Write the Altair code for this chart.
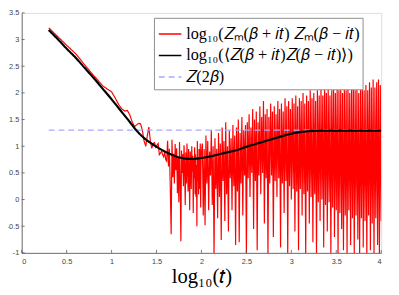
import altair as alt
import pandas as pd
import numpy as np

# ---- labels ----
L1 = "log₁₀(𝑍ₘ(𝛽 + 𝑖𝑡) 𝑍ₘ(𝛽 − 𝑖𝑡)"
L2 = "log₁₀(⟨𝑍(𝛽 + 𝑖𝑡)𝑍(𝛽 − 𝑖𝑡)⟩)"
L3 = "𝑍(2𝛽)"
x_title = "log₁₀(𝑡)"

x_ticks = [0, 0.5, 1, 1.5, 2, 2.5, 3, 3.5, 4]
y_ticks = [-1, -0.5, 0, 0.5, 1, 1.5, 2, 2.5, 3, 3.5]

# ---- red series: t = 2..100 ----
red_t = list(range(2, 101))
red_small_y = [
    3.22, 2.93, 2.73, 2.53, 2.37, 2.24, 2.13, 2.07, 2.02,
    1.90, 1.78, 1.70, 1.66, 1.67, 1.58, 1.45, 1.37, 1.40, 1.43,
    1.42, 1.30, 1.10, 1.00, 1.20, 1.36, 1.10, 0.96, 1.05, 1.07,
    0.98, 1.02, 1.05, 0.84, 0.87, 0.91, 0.84, 0.80, 0.90, 0.75,
    0.72, 1.10, 0.62, 0.95, 0.22, -0.65, 1.12, 0.42, 0.86, 0.30,
    1.04, 0.55, 0.96, 0.12, 0.80, -0.05, 1.08, 0.35, -0.78, 0.92,
    0.50, 0.85, 0.25, 1.02, 0.58, -0.10, 0.88, 0.30, 1.05, 0.62,
    0.15, 0.95, 0.45, -0.20, 0.90, 0.70, 0.20, 1.00, 0.52, 0.82,
    -0.25, 0.75, 0.40, 0.98, 0.10, 0.85, 0.05, 0.65, -0.50, 1.10,
    0.35, 0.80, 0.10, 0.95, 0.55, 0.20, 1.05, -0.15, 0.72, 0.90,
]
# ---- red series: dense part, log10(t) from 2.01 to 4.00 in steps of 0.01 ----
red_dense_y = [
    1.05, -0.30, 0.95, -0.48, 1.20, 0.30, 1.10, -0.20, 0.90, 0.45,
    1.30, -0.10, 1.00, -1.05, 1.15, 0.20, 0.95, -0.35, 1.25, 0.05,
    1.05, -0.76, 1.35, 0.35, 1.10, -0.40, 1.45, 0.10, 1.00, -0.60,
    1.30, 0.40, 1.15, -0.20, 1.40, 0.25, 1.20, -0.85, 1.35, 0.15,
    1.50, -0.80, 1.25, 0.30, 1.55, -0.30, 1.30, 0.45, 1.40, -1.05,
    1.45, 0.40, 1.60, 0.05, 1.35, 0.50, 1.70, -0.55, 1.50, 0.35,
    1.65, -0.95, 1.45, 0.45, 1.75, 0.10, 1.55, 0.50, 1.85, -0.45,
    1.60, 0.40, 1.70, -1.05, 1.55, 0.30, 1.80, 0.45, 1.65, -0.70,
    1.75, 0.35, 1.60, 0.05, 1.85, 0.40, 1.70, -0.90, 1.80, 0.30,
    1.65, -0.25, 1.90, 0.35, 1.75, -1.05, 1.85, 0.25, 1.70, 0.00,
    1.90, 0.20, 1.80, -0.60, 1.95, 0.15, 1.75, -0.95, 1.90, 0.20,
    1.85, -0.30, 2.00, 0.10, 1.80, -1.05, 1.95, 0.15, 1.85, -0.45,
    2.05, 0.05, 1.90, -0.80, 2.00, 0.10, 1.85, -1.05, 2.05, -0.05,
    1.95, -0.40, 2.10, 0.00, 1.95, -0.90, 2.25, -0.10, 2.00, -0.60,
    2.10, -0.05, 1.95, -1.05, 2.05, -0.15, 2.15, -0.70, 2.00, -0.20,
    2.10, -1.05, 2.05, -0.25, 2.15, -0.55, 2.00, -0.95, 2.10, -0.30,
    2.05, -1.05, 2.15, -0.20, 2.00, -0.85, 2.10, -0.35, 2.20, -1.05,
    2.05, -0.30, 2.15, -0.75, 2.00, -1.05, 2.10, -0.35, 2.20, -0.90,
    2.05, -0.40, 2.15, -1.05, 2.05, -0.30, 2.20, -0.95, 2.10, -0.45,
    2.25, -1.05, 2.10, -0.35, 2.20, -0.85, 2.25, -1.05, 2.15, -0.40,
]
red_dense_x = [round(2.0 + 0.01 * (i + 1), 2) for i in range(len(red_dense_y))]

# ---- black smooth curve ----
black_x = [0.30, 0.40, 0.50, 0.60, 0.70, 0.80, 0.90, 1.00, 1.10, 1.20, 1.27,
           1.35, 1.445, 1.50, 1.55, 1.63, 1.70, 1.78, 1.86, 1.93, 2.00, 2.10,
           2.20, 2.30, 2.40, 2.50, 2.60, 2.70, 2.80, 2.90, 3.00, 3.10, 3.20,
           3.30, 3.40, 4.00]
black_y = [3.18, 3.01, 2.83, 2.66, 2.47, 2.28, 2.08, 1.88, 1.67, 1.46, 1.31,
           1.17, 1.05, 0.99, 0.94, 0.87, 0.82, 0.78, 0.763, 0.765, 0.78, 0.81,
           0.85, 0.89, 0.93, 0.99, 1.04, 1.09, 1.14, 1.19, 1.235, 1.265, 1.283,
           1.29, 1.29, 1.29]

# ---- dashed constant ----
dash_x = [0.30, 4.00]
dash_y = [1.30, 1.30]

red_x = [float(np.log10(t)) for t in red_t] + red_dense_x
red_y = red_small_y + red_dense_y

df = pd.concat([
    pd.DataFrame({"x": red_x, "y": red_y, "series": L1}),
    pd.DataFrame({"x": black_x, "y": black_y, "series": L2}),
    pd.DataFrame({"x": dash_x, "y": dash_y, "series": L3}),
], ignore_index=True)

W, H = 367, 245
AX = "#555555"

x_scale = alt.Scale(domain=[0, 4], nice=False, zero=False)
y_scale = alt.Scale(domain=[-1, 3.5], nice=False, zero=False)
lab_expr = "datum.value < 0 ? '-' + format(-datum.value, '~g') : format(datum.value, '~g')"

x_axis = alt.Axis(values=x_ticks, labelExpr=lab_expr, title=x_title, grid=False,
                  ticks=False, domainColor=AX, domainWidth=0.8,
                  labelFont="Liberation Sans", labelFontSize=7.5, labelColor="#444444",
                  labelPadding=5, titleFont="Liberation Serif", titleFontSize=21,
                  titleFontWeight="normal", titleColor="black", titlePadding=1)
y_axis = alt.Axis(values=y_ticks, labelExpr=lab_expr, title=None, grid=False,
                  ticks=False, domainColor=AX, domainWidth=0.8,
                  labelFont="Liberation Sans", labelFontSize=7.5, labelColor="#444444",
                  labelPadding=3)

color_scale = alt.Scale(domain=[L1, L2, L3], range=["#ff0000", "#000000", "#a9a9ff"])
dash_scale = alt.Scale(domain=[L1, L2, L3], range=[[1, 0], [1, 0], [6, 4]])
leg = alt.Legend(title=None, orient="none", legendX=135, legendY=5,
                 strokeColor="#8c8c8c", fillColor="white", padding=4,
                 symbolType="stroke", symbolSize=530, symbolStrokeWidth=1.6,
                 labelFont="Liberation Serif", labelFontSize=16.5, labelColor="black",
                 labelLimit=500, rowPadding=1, labelOffset=4)

base = alt.Chart(df).encode(
    x=alt.X("x:Q", scale=x_scale, axis=x_axis),
    y=alt.Y("y:Q", scale=y_scale, axis=y_axis),
    color=alt.Color("series:N", scale=color_scale, legend=leg),
    strokeDash=alt.StrokeDash("series:N", scale=dash_scale, legend=leg),
)

red = base.transform_filter(alt.datum.series == L1).mark_line(strokeWidth=1.2, clip=True)
dashed = base.transform_filter(alt.datum.series == L3).mark_line(strokeWidth=1.3)
black = base.transform_filter(alt.datum.series == L2).mark_line(strokeWidth=2.2, interpolate="monotone")

xt = alt.Chart(pd.DataFrame({"x": x_ticks})).mark_rule(color=AX, strokeWidth=0.8).encode(
    x=alt.X("x:Q", scale=x_scale, axis=x_axis), y=alt.value(H), y2=alt.value(H - 3))
yt = alt.Chart(pd.DataFrame({"y": y_ticks})).mark_rule(color=AX, strokeWidth=0.8).encode(
    y=alt.Y("y:Q", scale=y_scale, axis=y_axis), x=alt.value(0), x2=alt.value(3))

chart = alt.layer(red, dashed, black, xt, yt).properties(
    width=W, height=H,
    autosize=alt.AutoSizeParams(type="none"),
    padding={"left": 14, "top": 2, "right": 10, "bottom": 40},
).configure_view(stroke=None).configure(background="white")

chart.save("out.html", embed_options={"renderer": "svg", "actions": False})
